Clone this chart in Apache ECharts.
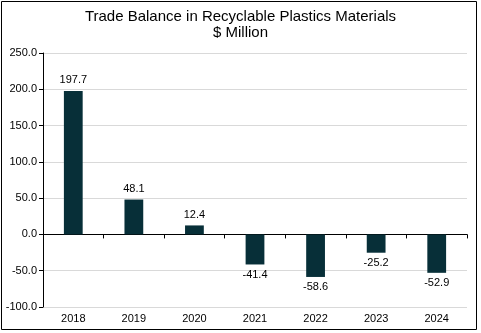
<!DOCTYPE html>
<html><head><meta charset="utf-8">
<script src="https://cdn.jsdelivr.net/npm/echarts@6/dist/echarts.min.js"></script>
<style>html,body{margin:0;padding:0;background:#fff}#c{width:481px;height:333px}</style>
</head><body><div id="c"></div>
<script>
const categories = ['2018','2019','2020','2021','2022','2023','2024'];
const values = [197.7, 48.1, 12.4, -41.4, -58.6, -25.2, -52.9];
const yTicks = [-100, 250, 50];
const titleLines = ['Trade Balance in Recyclable Plastics Materials', '$ Million'];

const chart = echarts.init(document.getElementById('c'));
const font = 'Liberation Sans, Arial, sans-serif';
chart.setOption({
  animation: false,
  title: {
    text: titleLines.join('\n'), left: 'center', top: 4,
    textStyle: {fontFamily: font, fontSize: 15, fontWeight: 'normal', color: '#000', lineHeight: 16}
  },
  graphic: [{type: 'rect', shape: {x: 1.5, y: 1.5, width: 475, height: 328}, style: {fill: 'none', stroke: '#000', lineWidth: 1}}],
  grid: {left: 43, right: 14, top: 53, bottom: 26},
  xAxis: [{
    type: 'category', data: categories,
    axisLine: {onZero: true, lineStyle: {color: '#000', width: 1}},
    axisTick: {show: true, length: 4, lineStyle: {color: '#000'}},
    axisLabel: {show: false}
  }, {
    type: 'category', data: categories, position: 'bottom',
    axisLine: {show: false}, axisTick: {show: false},
    axisLabel: {show: true, fontFamily: font, fontSize: 11, color: '#000', margin: 6}
  }],
  yAxis: {
    type: 'value', min: yTicks[0], max: yTicks[1], interval: yTicks[2],
    axisLine: {show: true, lineStyle: {color: '#000'}},
    axisTick: {show: true, length: 4, lineStyle: {color: '#000'}},
    axisLabel: {fontFamily: font, fontSize: 11, color: '#000', margin: 6, formatter: v => v.toFixed(1)},
    splitLine: {lineStyle: {color: '#d9d9d9', width: 1}}
  },
  series: [{
    type: 'bar', xAxisIndex: 0,
    data: values.map(v => ({value: v, label: {position: v >= 0 ? 'top' : 'bottom'}})),
    barWidth: '31%',
    itemStyle: {color: '#072f38'},
    label: {show: true, fontFamily: font, fontSize: 11, color: '#000', distance: 5, formatter: p => p.value.toFixed(1)}
  }]
});
</script></body></html>
